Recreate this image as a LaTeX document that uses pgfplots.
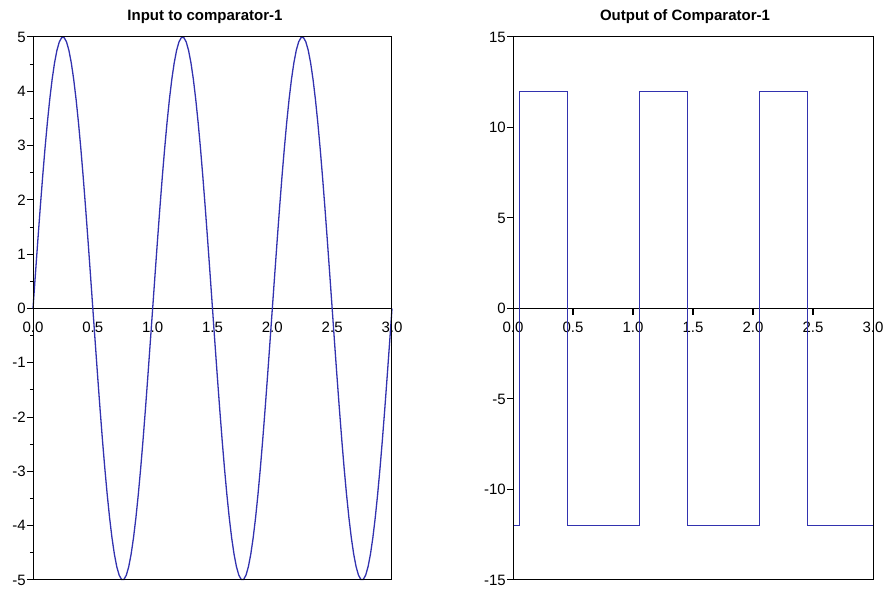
\documentclass[border=0pt]{standalone}
\usepackage{fontspec}
\setmainfont{Liberation Sans}
\usepackage{pgfplots}
\pgfplotsset{compat=1.18}
\definecolor{sig}{RGB}{50,50,175}

\pgfplotsset{scilab/.style={
    scale only axis, anchor=south west,
    height=543pt,
    xmin=0, xmax=3,
    axis x line=middle, axis y line=box,
    every inner x axis line/.append style={-},
    hide obscured x ticks=false,
    ytick pos=left, tick align=outside,
    xtick={0,0.5,1,1.5,2,2.5,3},
    x tick style={draw=none},
    major tick length=6pt, minor tick length=3pt,
    axis line style={line width=1pt, black},
    every tick/.style={line width=1pt, black},
    tick label style={font=\fontsize{15}{18}\selectfont},
    /pgf/number format/assume math mode=true,
    yticklabel style={inner sep=1pt},
    clip=false,
    after end axis/.code={\draw[line width=1pt] (rel axis cs:0,0) rectangle (rel axis cs:1,1);},
    xticklabel style={yshift=-4pt, /pgf/number format/.cd, fixed, fixed zerofill, precision=1},
}}

% comparator output: level changes (held until next row)
\pgfplotstableread{
x      y
0      -12
0.055   12
0.455  -12
1.055   12
1.455  -12
2.055   12
2.455  -12
3.000  -12
}\cmpout

\begin{document}
\begin{tikzpicture}
\useasboundingbox (0,0) rectangle (887pt,600pt);

% left: input sine
\begin{axis}[scilab, at={(33pt,20pt)}, width=359pt,
    ymin=-5, ymax=5, ytick={-5,-4,...,5}, minor y tick num=1]
\addplot[draw=sig, line width=1.3pt] coordinates {
(0.00,0) (0.02,0.627) (0.04,1.243) (0.06,1.841) (0.08,2.409) (0.10,2.939)
(0.12,3.423) (0.14,3.853) (0.16,4.222) (0.18,4.524) (0.20,4.755) (0.22,4.911)
(0.24,4.990) (0.26,4.990) (0.28,4.911) (0.30,4.755) (0.32,4.524) (0.34,4.222)
(0.36,3.853) (0.38,3.423) (0.40,2.939) (0.42,2.409) (0.44,1.841) (0.46,1.243)
(0.48,0.627) (0.50,0) (0.52,-0.627) (0.54,-1.243) (0.56,-1.841) (0.58,-2.409)
(0.60,-2.939) (0.62,-3.423) (0.64,-3.853) (0.66,-4.222) (0.68,-4.524) (0.70,-4.755)
(0.72,-4.911) (0.74,-4.990) (0.76,-4.990) (0.78,-4.911) (0.80,-4.755) (0.82,-4.524)
(0.84,-4.222) (0.86,-3.853) (0.88,-3.423) (0.90,-2.939) (0.92,-2.409) (0.94,-1.841)
(0.96,-1.243) (0.98,-0.627)
(1.00,0) (1.02,0.627) (1.04,1.243) (1.06,1.841) (1.08,2.409) (1.10,2.939)
(1.12,3.423) (1.14,3.853) (1.16,4.222) (1.18,4.524) (1.20,4.755) (1.22,4.911)
(1.24,4.990) (1.26,4.990) (1.28,4.911) (1.30,4.755) (1.32,4.524) (1.34,4.222)
(1.36,3.853) (1.38,3.423) (1.40,2.939) (1.42,2.409) (1.44,1.841) (1.46,1.243)
(1.48,0.627) (1.50,0) (1.52,-0.627) (1.54,-1.243) (1.56,-1.841) (1.58,-2.409)
(1.60,-2.939) (1.62,-3.423) (1.64,-3.853) (1.66,-4.222) (1.68,-4.524) (1.70,-4.755)
(1.72,-4.911) (1.74,-4.990) (1.76,-4.990) (1.78,-4.911) (1.80,-4.755) (1.82,-4.524)
(1.84,-4.222) (1.86,-3.853) (1.88,-3.423) (1.90,-2.939) (1.92,-2.409) (1.94,-1.841)
(1.96,-1.243) (1.98,-0.627)
(2.00,0) (2.02,0.627) (2.04,1.243) (2.06,1.841) (2.08,2.409) (2.10,2.939)
(2.12,3.423) (2.14,3.853) (2.16,4.222) (2.18,4.524) (2.20,4.755) (2.22,4.911)
(2.24,4.990) (2.26,4.990) (2.28,4.911) (2.30,4.755) (2.32,4.524) (2.34,4.222)
(2.36,3.853) (2.38,3.423) (2.40,2.939) (2.42,2.409) (2.44,1.841) (2.46,1.243)
(2.48,0.627) (2.50,0) (2.52,-0.627) (2.54,-1.243) (2.56,-1.841) (2.58,-2.409)
(2.60,-2.939) (2.62,-3.423) (2.64,-3.853) (2.66,-4.222) (2.68,-4.524) (2.70,-4.755)
(2.72,-4.911) (2.74,-4.990) (2.76,-4.990) (2.78,-4.911) (2.80,-4.755) (2.82,-4.524)
(2.84,-4.222) (2.86,-3.853) (2.88,-3.423) (2.90,-2.939) (2.92,-2.409) (2.94,-1.841)
(2.96,-1.243) (2.98,-0.627) (3.00,0)
};
\end{axis}

% right: comparator output
\begin{axis}[scilab, at={(513pt,20pt)}, width=360pt,
    ymin=-15, ymax=15, ytick={-15,-10,-5,0,5,10,15}]
\addplot[const plot, no marks, color=sig, line width=1.3pt] table[x=x, y=y] {\cmpout};
\pgfplotsinvokeforeach{0.5,1,1.5,2,2.5}{
  \draw[line width=1.2pt] (axis cs:#1,0) -- ([yshift=-7pt]axis cs:#1,0);
}
\end{axis}

\node[font=\bfseries\fontsize{15}{18}\selectfont] at (205pt,583pt) {Input to comparator-1};
\node[font=\bfseries\fontsize{15}{18}\selectfont] at (685pt,583pt) {Output of Comparator-1};
\end{tikzpicture}
\end{document}
